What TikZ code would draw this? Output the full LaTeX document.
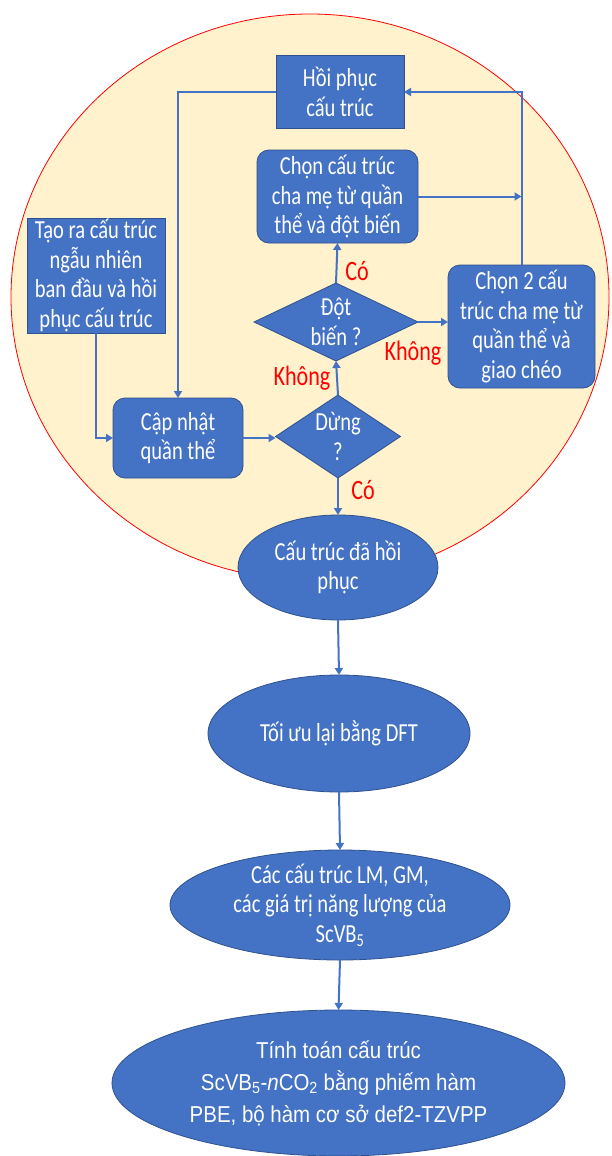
\documentclass[tikz,border=0pt]{standalone}
\usepackage{fontspec}
\setmainfont{Carlito}[FakeStretch=0.79]
\newfontfamily\arialf{Liberation Sans}[FakeStretch=0.89]
\usetikzlibrary{shapes.geometric,arrows.meta}
\definecolor{nblue}{HTML}{4472C4}
\definecolor{nedge}{HTML}{2F528F}
\definecolor{bgyel}{HTML}{FFF2CC}
\tikzset{
  shp/.style={fill=nblue,draw=nedge,line width=0.8pt,inner sep=0pt,outer sep=0pt},
  sqbox/.style={shp,rectangle},
  rdbox/.style={shp,rectangle,rounded corners=12pt},
  dia/.style={shp,diamond},
  ell/.style={shp,ellipse},
  txt/.style={text=white,align=center,inner sep=0pt,font=\fontsize{26}{29.5}\selectfont},
  lab/.style={text=red,inner sep=0pt,font=\fontsize{28}{30}\selectfont},
  conn/.style={draw=nblue,line width=2pt,-{Triangle[length=7pt,width=8pt]}}
}
\begin{document}
\begin{tikzpicture}[x=1pt,y=-1pt]
\useasboundingbox (0,0) rectangle (611,1156);
\fill[bgyel] (310,297) ellipse [x radius=299pt, y radius=283pt];
\draw[red,line width=0.8pt] (310,297) ellipse [x radius=299pt, y radius=283pt];

\node[sqbox,minimum width=128pt,minimum height=73pt,label={[txt]center:{Hồi phục\\cấu trúc}}] (hoi) at (340,92) {};
\node[rdbox,minimum width=161pt,minimum height=93pt,label={[txt]center:{Chọn cấu trúc\\cha mẹ từ quần\\thể và đột biến}}] (chon) at (337.5,196.5) {};
\node[sqbox,minimum width=138pt,minimum height=115pt,label={[txt]center:{Tạo ra cấu trúc\\ngẫu nhiên\\ban đầu và hồi\\phục cấu trúc}}] (tao) at (96,275.5) {};
\node[rdbox,minimum width=130pt,minimum height=80pt,label={[txt]center:{Cập nhật\\quần thể}}] (cap) at (178,438) {};
\node[rdbox,minimum width=147pt,minimum height=123pt,label={[txt]center:{Chọn 2 cấu\\trúc cha mẹ từ\\quần thể và\\giao chéo}}] (chon2) at (521.5,326.5) {};
\node[dia,minimum width=125pt,minimum height=83pt,label={[txt]center:{Dừng\\?}}] (dung) at (338,436.5) {};
\node[dia,minimum width=164pt,minimum height=78pt,label={[txt]center:{Đột\\biến ?}}] (dot) at (336,322) {};
\node[ell,minimum width=200pt,minimum height=105pt,label={[txt]center:{Cấu trúc đã hồi\\phục}}] (ket) at (338,567.5) {};
\node[ell,minimum width=262pt,minimum height=117pt,label={[txt]center:{Tối ưu lại bằng DFT}}] (toi) at (339,733.5) {};
\node[ell,minimum width=340pt,minimum height=110pt,label={[txt]center:{Các cấu trúc LM, GM,\\các giá trị năng lượng của\\ScVB\textsubscript{5}}}] (cac) at (340,905) {};
\node[ell,minimum width=453pt,minimum height=146pt,label={[txt,font=\arialf\fontsize{23}{32}\selectfont]center:{Tính toán cấu trúc\\ScVB\textsubscript{5}-\textit{n}CO\textsubscript{2} bằng phiếm hàm\\PBE, bộ hàm cơ sở def2-TZVPP}}] (tinh) at (338.5,1083) {};

\coordinate (j) at (chon2.north |- chon.east);
\draw[conn] (hoi.west) -| (cap.north);
\draw[conn] (tao.south) |- (cap.west);
\draw[conn] (chon2.north) |- (hoi.east);
\draw[conn] (chon.east) -- (j);
\draw[conn] (cap.east) -- (cap.east -| dung.west);
\draw[conn] (dung.north) -- (dot.south);
\draw[conn] (dot.north) -- (chon.south);
\draw[conn] (dot.east) -- (dot.east -| chon2.west);
\draw[conn] (dung.south) -- (ket.north);
\draw[conn] (ket.south) -- (toi.north);
\draw[conn] (toi.south) -- (cac.north);
\draw[conn] (cac.south) -- (tinh.north);

\node[lab] (l1) at (357,271) {Có};
\node[lab] (l2) at (302,378) {Không};
\node[lab] (l3) at (413,353) {Không};
\node[lab] (l4) at (363,490) {Có};
\end{tikzpicture}
\end{document}
